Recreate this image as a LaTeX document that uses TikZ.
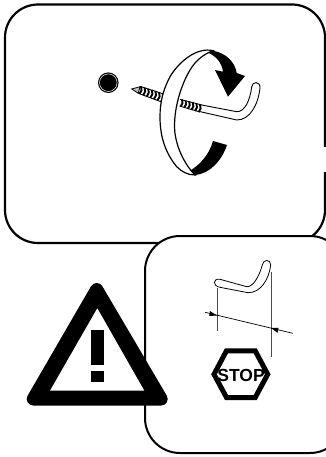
\documentclass[tikz,border=0pt]{standalone}
\usepackage{fontspec}
\setmainfont{Liberation Sans}
\tikzset{frameA/.style={draw=black,line width=2.2pt,rounded corners=33pt},
 frameB/.style={draw=black,line width=2pt,fill=white,rounded corners=35pt},
 ringedge/.style={draw=black,line width=1.2pt},
 hookline/.style={draw=black,line width=0.9pt,fill=white},
 threadmark/.style={draw=black,line width=1.9pt},
 threadedge/.style={draw=black,line width=0.9pt},
 extline/.style={draw=black!70,line width=0.8pt},
 warn/.style={draw=black,fill=black,line width=13pt,line join=round}}
\begin{document}
\begin{tikzpicture}[x=1pt,y=-1pt]
\useasboundingbox (0,0) rectangle (326,457);
\clip (0,0) rectangle (326,457);
% upper frame
\draw[frameA] (325,172) -- (325,243) -- (5,243) -- (5,4.5) -- (325,4.5) -- (325,147);
% hole
\fill[black] (108.3,82.7) circle (10.3);
\draw[white,line width=0.5pt] (108.3,82.7) circle (8.8);
% screw, tip side
\draw[hookline,line width=0.8pt,fill=black!25] (131.7,89) -- (140,86.7) -- (138.3,93.3) -- cycle;
\foreach \i in {0,...,7}{\draw[threadmark] ({141+3.6*\i},{86.4+1.15*\i}) to[bend left=35] ({139.6+3.6*\i},{93.8+1.3*\i});}
\draw[threadedge] (140,86.4) -- (167,95);
\draw[threadedge] (138.5,93.4) -- (165.5,103.4);
% hook
\draw[hookline] (201.7,105) -- (236.7,111.7) .. controls (245,112) and (250,100) .. (251.7,87) .. controls (252,81) and (260.5,81) .. (260,88) .. controls (258,105) and (250,120) .. (236.7,120) -- (199.5,111.5);
\foreach \i in {0,...,5}{\draw[threadmark] ({182+3.6*\i},{99.4+1.0*\i}) to[bend left=35] ({180.6+3.6*\i},{106.6+1.1*\i});}
\draw[threadedge] (180,99.4) -- (202,105);
\draw[threadedge] (179.5,106) -- (200,112);
% rotation band: dark parts
\fill[black] (213,50.7) .. controls (226,53) and (235,62) .. (236.7,73) -- (245,76) -- (228,96.7) -- (215,70) -- (223,71.7) .. controls (222,63) and (216,56) .. (208,52.7) -- cycle;
\fill[black] (213,141) -- (227,145) .. controls (222,160) and (210,174) .. (195,175) -- (188,172) .. controls (200,165) and (209,155) .. (213,141) -- cycle;
% rotation band: white part
\draw[ringedge,fill=white] (213,50.7) .. controls (198,47) and (180,60) .. (170,76.7) .. controls (163,90) and (160,102) .. (160,117) .. controls (160,132) and (163,150) .. (176.7,166.7) .. controls (182,172) and (188,175) .. (195,175) .. controls (186,166) and (177,150) .. (174.8,132) .. controls (173,110) and (181,85) .. (190,70) .. controls (196,60) and (204,54) .. (213,50.7) -- cycle;
% lower frame
\draw[frameB] (145,236) rectangle (345,453);
% small hook
\draw[hookline,line width=0.8pt] (220,279.3) -- (246.7,286.7) .. controls (253,287) and (259,277) .. (262.3,265) .. controls (263,259) and (271,259) .. (270.7,265) .. controls (269,280) and (260,293) .. (248,292.7) -- (220,287.3) .. controls (212,286) and (213,278) .. (220,279.3) -- cycle;
% dimension
\coordinate (extA) at (217.3,288); \coordinate (extAe) at (217.3,330.7);
\coordinate (extB) at (271,271.7); \coordinate (extBe) at (271,357.3);
\coordinate (dimA) at (205,312.3); \coordinate (dimB) at (292.7,333.3);
\draw[extline] (extA) -- (extAe);
\draw[extline] (extB) -- (extBe);
\draw[black,line width=0.7pt] (dimA) -- (dimB);
\fill[black] (217.3,315.7) -- (210,311) -- (209.2,315.8) -- cycle;
\fill[black] (271,328) -- (278.5,327.8) -- (277.5,332.8) -- cycle;
% stop sign
\draw[black,line width=5pt,line join=miter] (214,374.3) -- (226.5,350.8) -- (255.2,350.8) -- (267.7,374.3) -- (255.2,397.5) -- (226.5,397.5) -- cycle;
\node[font=\fontsize{17.5}{17.5}\selectfont\bfseries,inner sep=0pt] (stoptext) at (241,375) {STOP};
% warning triangle
\draw[warn] (96.7,289.5) -- (33.2,399) -- (161.2,399) -- cycle;
\fill[white] (97.3,308.3) -- (50,390.7) -- (144.3,390.7) -- cycle;
\fill[black] (91,330) rectangle (104.3,365);
\fill[black] (91,370.7) rectangle (104.3,381.7);
\end{tikzpicture}
\end{document}
